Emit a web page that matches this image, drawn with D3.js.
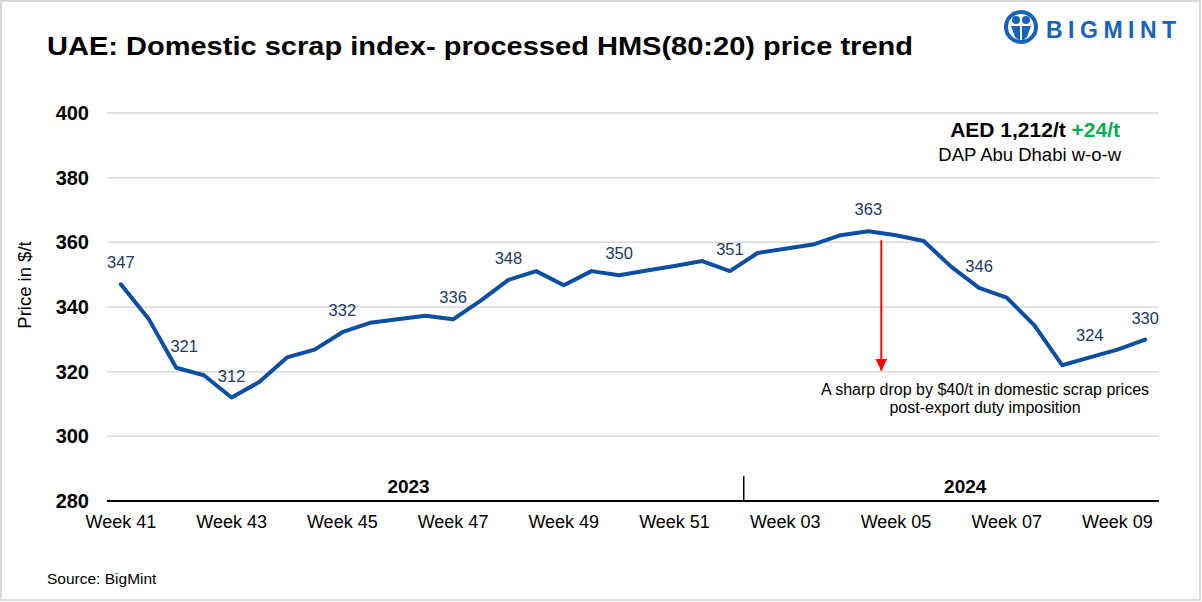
<!DOCTYPE html>
<html>
<head>
<meta charset="utf-8">
<script src="https://cdn.jsdelivr.net/npm/d3@7"></script>
<style>
body{margin:0;background:#fff;}
text{font-family:"Liberation Sans",Arial,sans-serif;}
</style>
</head>
<body>
<script>
// price series, two readings per week
var prices=[347,336.4,321.2,318.9,312,316.8,324.4,326.8,332.2,335.1,336.2,337.3,336.2,342,348.4,351.1,346.7,351.1,349.8,351.3,352.7,354.2,351.1,356.7,358,359.3,362.2,363.4,362.2,360.4,352.4,345.9,342.9,334.3,322,324.4,326.8,329.9];
var labelIdx=[0,2,4,8,12,14,18,22,27,31,35,37];
var labelShift=[0,8,0,0,0,0,0,0,0,0,0,0];
var weekTicks=["Week 41","Week 43","Week 45","Week 47","Week 49","Week 51","Week 03","Week 05","Week 07","Week 09"];
var weekTickIdx=[0,4,8,12,16,20,24,28,32,36];
var years=["2023","2024"];
var yearFirst=[0,24];
var yearLast=[21,37];
var yearSplit=23;
var yTicks=[280,300,320,340,360,380,400];

var W=1202,H=602;
var svg=d3.select('body').append('svg').attr('width',W).attr('height',H);

svg.append('rect')
.attr('x',1).attr('y',1).attr('width',W-3).attr('height',H-3)
.attr('fill','#fff').attr('stroke','#d9d9d9').attr('stroke-width',2);

var x=d3.scaleBand().domain(d3.range(prices.length)).range([107,1159]).padding(0);
var y=d3.scaleLinear().domain([280,400]).range([501,113]);
function cx(i){return x(i)+x.bandwidth()/2;}

// gridlines
svg.append('g').selectAll('line').data(yTicks.slice(1)).enter().append('line')
.attr('x1',107).attr('x2',1159)
.attr('y1',d=>y(d)).attr('y2',d=>y(d))
.style('stroke','#d9d9d9').style('stroke-width',1.5);

// y labels
svg.append('g').selectAll('text').data(yTicks).enter().append('text')
.text(d=>d)
.attr('x',89).attr('y',d=>y(d)+7)
.attr('text-anchor','end')
.style('font-size','20px').style('font-weight','bold').attr('fill','#000');

svg.append('text')
.text('Price in $/t')
.attr('transform','translate(31,285) rotate(-90)')
.attr('text-anchor','middle')
.style('font-size','18.5px').attr('fill','#000');

// x axis
svg.append('line')
.attr('x1',107).attr('x2',1159).attr('y1',y(280)).attr('y2',y(280))
.style('stroke','#000').style('stroke-width',2);

svg.append('line')
.attr('x1',x(yearSplit)).attr('x2',x(yearSplit))
.attr('y1',y(280)-25).attr('y2',y(280))
.style('stroke','#000').style('stroke-width',1.5);

svg.append('g').selectAll('text').data(weekTicks).enter().append('text')
.text(d=>d)
.attr('x',(d,i)=>cx(weekTickIdx[i]))
.attr('y',528)
.attr('text-anchor','middle')
.style('font-size','18px').attr('fill','#000');

svg.append('g').selectAll('text').data(years).enter().append('text')
.text(d=>d)
.attr('x',(d,i)=>(x(yearFirst[i])+x(yearLast[i])+x.bandwidth())/2-(i==0?3:0))
.attr('y',493)
.attr('text-anchor','middle')
.style('font-size','19px').style('font-weight','bold').attr('fill','#000');

// price line
var line=d3.line().x((d,i)=>cx(i)).y(d=>y(d));
svg.append('path')
.datum(prices)
.attr('d',line)
.attr('fill','none')
.style('stroke','#0b4ea2').style('stroke-width',4)
.style('stroke-linejoin','round').style('stroke-linecap','round');

svg.append('g').selectAll('text').data(labelIdx).enter().append('text')
.text(d=>Math.round(prices[d]))
.attr('x',(d,i)=>cx(d)+labelShift[i])
.attr('y',d=>y(prices[d])-16)
.attr('text-anchor','middle')
.style('font-size','16.5px').attr('fill','#203864');

// arrow for the drop
var arrowAt=27;
svg.append('defs').append('marker')
.attr('id','arr').attr('viewBox','0 0 12 12')
.attr('refX',12).attr('refY',6)
.attr('markerWidth',12).attr('markerHeight',12)
.attr('markerUnits','userSpaceOnUse')
.attr('orient','auto')
.append('path').attr('d','M0,0 L12,6 L0,12 Z').attr('fill','#ff0000');

svg.append('line')
.attr('x1',cx(arrowAt)+13).attr('x2',cx(arrowAt)+13)
.attr('y1',y(prices[arrowAt])+9).attr('y2',y(320)-1)
.style('stroke','#ff0000').style('stroke-width',2)
.attr('marker-end','url(#arr)');

svg.append('text')
.text('A sharp drop by $40/t in domestic scrap prices')
.attr('x',985).attr('y',395).attr('text-anchor','middle')
.style('font-size','16px').attr('fill','#000');
svg.append('text')
.text('post-export duty imposition')
.attr('x',985).attr('y',413).attr('text-anchor','middle')
.style('font-size','16px').attr('fill','#000');

// headline value
var hv=svg.append('text').attr('x',1120).attr('y',137).attr('text-anchor','end')
.style('font-size','21px').style('font-weight','bold');
hv.append('tspan').text('AED 1,212/t ').attr('fill','#000');
hv.append('tspan').text('+24/t').attr('fill','#00b050');

svg.append('text')
.text('DAP Abu Dhabi w-o-w')
.attr('x',1121).attr('y',161).attr('text-anchor','end')
.style('font-size','18.5px').attr('fill','#000');

// title
svg.append('text')
.text('UAE: Domestic scrap index- processed HMS(80:20) price trend')
.attr('x',47).attr('y',55)
.attr('textLength',866).attr('lengthAdjust','spacingAndGlyphs')
.style('font-size','26px').style('font-weight','bold').attr('fill','#000');

svg.append('text')
.text('Source: BigMint')
.attr('x',47).attr('y',584)
.style('font-size','15.5px').attr('fill','#000');

// logo
var logo=svg.append('g').attr('transform','translate(1021,27)');
logo.append('circle').attr('r',15).attr('fill','none').style('stroke','#1763b8').style('stroke-width',4);
logo.append('circle').attr('cx',-5).attr('cy',-7).attr('r',4).attr('fill','#1763b8');
logo.append('circle').attr('cx',5).attr('cy',-7).attr('r',4).attr('fill','#1763b8');
logo.append('path').attr('d','M-10,-1 L-1,-1 L-1,14 L-6,10 Z M1,-1 L10,-1 L6,10 L1,14 Z').attr('fill','#1763b8');
svg.append('text')
.text('BIGMINT')
.attr('x',1046).attr('y',38)
.style('font-size','23px').style('font-weight','bold').style('letter-spacing','5.5px')
.attr('fill','#1763b8');
</script>
</body>
</html>
